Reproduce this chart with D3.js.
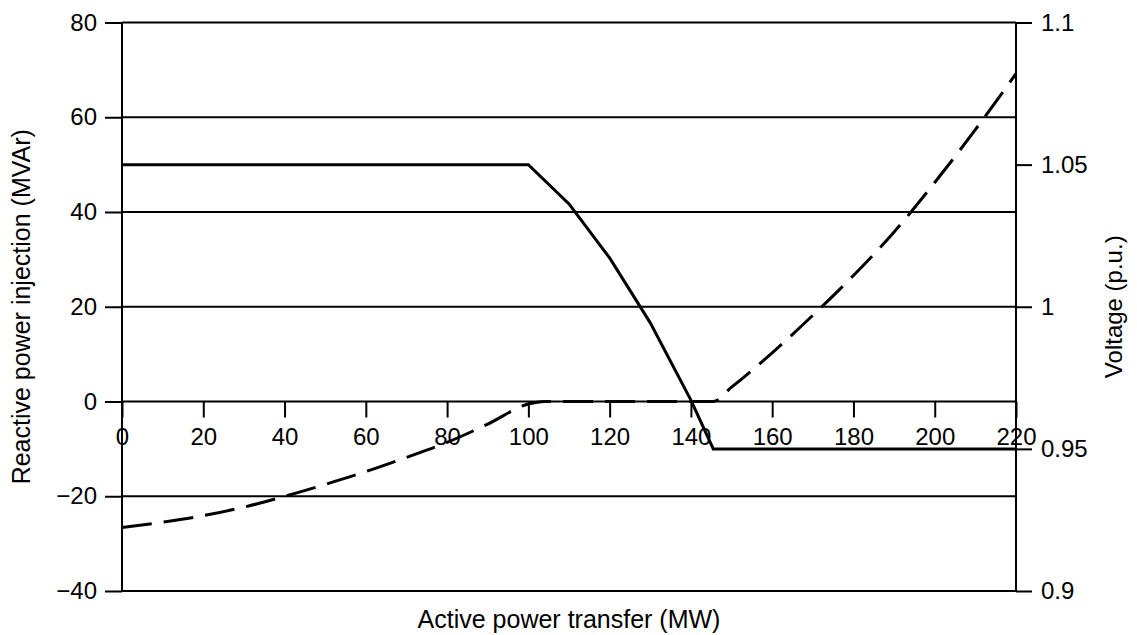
<!DOCTYPE html>
<html>
<head>
<meta charset="utf-8">
<script src="https://cdn.jsdelivr.net/npm/d3@7"></script>
<style>
  body { margin: 0; background: #fff; }
  svg text { font-family: "Liberation Sans", Arial, sans-serif; fill: #000; }
</style>
</head>
<body>
<div id="chart"></div>
<script>
var w = 1137;
var h = 635;

// Reactive power injection (solid line), MVAr vs MW
var qTransfer = [0, 100, 110, 120, 130, 140, 145.5, 220];
var qValues   = [50, 50, 41.7, 30.3, 16.6, 0.3, -10, -10];

// Voltage (dashed line), p.u. vs MW
var vTransfer = [0, 10, 20, 30, 40, 50, 60, 70, 80, 90, 100, 104, 145.5, 150, 160, 170, 180, 190, 200, 210, 220];
var vValues   = [0.9223, 0.9242, 0.9265, 0.9295, 0.9333, 0.9375, 0.942, 0.947, 0.9523, 0.9587, 0.9658,
                 0.9667, 0.9667, 0.9717, 0.9838, 0.997, 1.011, 1.0263, 1.0437, 1.0623, 1.082];

var xTicks = [0, 20, 40, 60, 80, 100, 120, 140, 160, 180, 200, 220];
var qTicks = [-40, -20, 0, 20, 40, 60, 80];
var vTicks = [0.9, 0.95, 1, 1.05, 1.1];

var margin = {top: 22.5, right: 121, bottom: 44, left: 122},
    width = w - margin.left - margin.right,
    height = h - margin.top - margin.bottom;

var svg = d3.select("#chart").append("svg")
    .attr("width", w)
    .attr("height", h);

var g = svg.append("g")
    .attr("transform", "translate(" + margin.left + "," + margin.top + ")");

var x = d3.scaleLinear().domain([0, 220]).range([0, width]);
var yQ = d3.scaleLinear().domain([-40, 80]).range([height, 0]);
var yV = d3.scaleLinear().domain([0.9, 1.1]).range([height, 0]);

// horizontal grid lines
g.selectAll(".grid")
  .data(qTicks)
  .enter().append("line")
    .attr("class", "grid")
    .attr("x1", 0)
    .attr("x2", width)
    .attr("y1", function(d) { return yQ(d); })
    .attr("y2", function(d) { return yQ(d); })
    .attr("stroke", "#000")
    .attr("stroke-width", 2);

// left axis
var leftAxis = g.append("g")
    .call(d3.axisLeft(yQ).tickValues(qTicks).tickSize(17).tickPadding(8)
      .tickFormat(function(d) { return d < 0 ? "\u2212" + Math.abs(d) : d; }));

// right axis
var rightAxis = g.append("g")
    .attr("transform", "translate(" + width + ",0)")
    .call(d3.axisRight(yV).tickValues(vTicks).tickSize(16).tickPadding(9)
      .tickFormat(function(d) { return String(d); }));

// x axis sits on the zero line
var bottomAxis = g.append("g")
    .attr("transform", "translate(0," + yQ(0) + ")")
    .call(d3.axisBottom(x).tickValues(xTicks).tickSize(16).tickPadding(10));

[leftAxis, rightAxis, bottomAxis].forEach(function(a) {
  a.select(".domain").remove();
  a.selectAll(".tick line").attr("stroke", "#000").attr("stroke-width", 2);
  a.selectAll(".tick text").style("font-size", "24px");
});

// vertical frame lines
g.append("line")
    .attr("x1", 0).attr("x2", 0)
    .attr("y1", 0).attr("y2", height)
    .attr("stroke", "#000").attr("stroke-width", 2);
g.append("line")
    .attr("x1", width).attr("x2", width)
    .attr("y1", 0).attr("y2", height)
    .attr("stroke", "#000").attr("stroke-width", 2);

// data lines
var qData = qTransfer.map(function(d, i) { return [d, qValues[i]]; });
var vData = vTransfer.map(function(d, i) { return [d, vValues[i]]; });

g.append("path")
    .datum(qData)
    .attr("fill", "none")
    .attr("stroke", "#000")
    .attr("stroke-width", 3)
    .attr("d", d3.line()
      .x(function(d) { return x(d[0]); })
      .y(function(d) { return yQ(d[1]); }));

g.append("path")
    .datum(vData)
    .attr("fill", "none")
    .attr("stroke", "#000")
    .attr("stroke-width", 3)
    .attr("stroke-dasharray", "30,12")
    .attr("d", d3.line()
      .curve(d3.curveMonotoneX)
      .x(function(d) { return x(d[0]); })
      .y(function(d) { return yV(d[1]); }));

// axis titles
svg.append("text")
    .attr("x", margin.left + width / 2)
    .attr("y", 628)
    .attr("text-anchor", "middle")
    .style("font-size", "25px")
    .text("Active power transfer (MW)");

svg.append("text")
    .attr("transform", "translate(30," + (margin.top + height / 2) + ") rotate(-90)")
    .attr("text-anchor", "middle")
    .style("font-size", "25px")
    .text("Reactive power injection (MVAr)");

svg.append("text")
    .attr("transform", "translate(1122," + (margin.top + height / 2) + ") rotate(-90)")
    .attr("text-anchor", "middle")
    .style("font-size", "24px")
    .text("Voltage (p.u.)");
</script>
</body>
</html>
